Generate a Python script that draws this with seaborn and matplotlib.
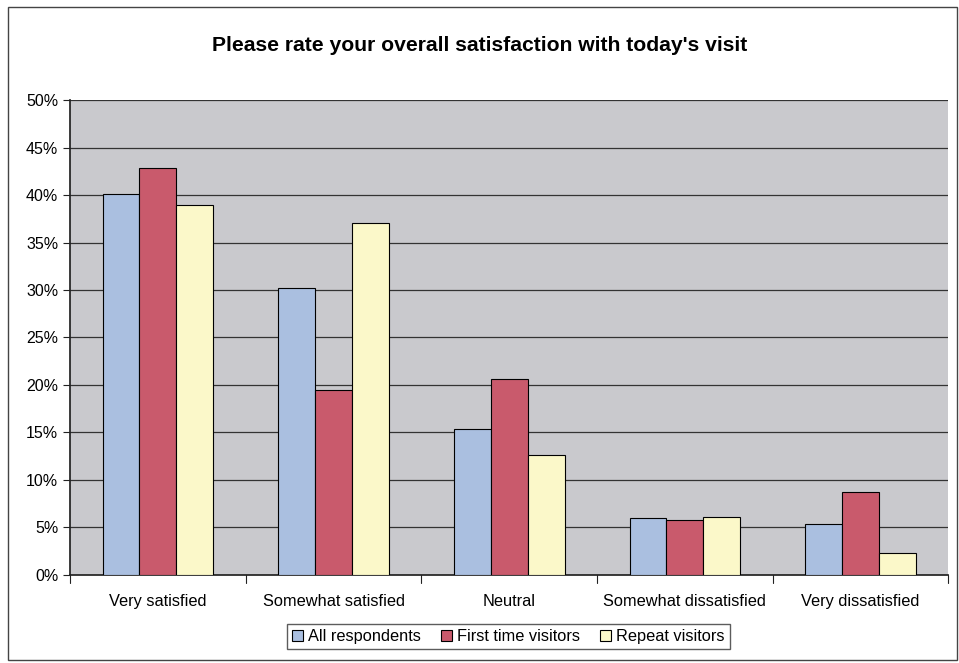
import matplotlib
matplotlib.use("Agg")
import matplotlib.pyplot as plt
import matplotlib.patches as mpatches
import pandas as pd
import seaborn as sns

categories = ["Very satisfied", "Somewhat satisfied", "Neutral",
              "Somewhat dissatisfied", "Very dissatisfied"]
all_respondents = [40.1, 30.2, 15.4, 6.0, 5.4]
first_time = [42.8, 19.5, 20.6, 5.8, 8.7]
repeat = [39.0, 37.1, 12.6, 6.1, 2.3]
series_names = ["All respondents", "First time visitors", "Repeat visitors"]
colors = ["#aabfe0", "#c95a6c", "#fbf8c9"]
yticks = list(range(0, 55, 5))

rows = []
for name, vals in zip(series_names, [all_respondents, first_time, repeat]):
    for c, v in zip(categories, vals):
        rows.append({"category": c, "series": name, "value": v})
df = pd.DataFrame(rows)

sns.set_theme(style="white")
plt.rcParams["font.family"] = ["Liberation Sans", "DejaVu Sans"]
plt.rcParams["text.color"] = "black"
plt.rcParams["xtick.color"] = "black"
plt.rcParams["ytick.color"] = "black"

fig = plt.figure(figsize=(9.59, 6.63), dpi=100)
ax = fig.add_axes([0.073, 0.133, 0.916, 0.716])

sns.barplot(data=df, x="category", y="value", hue="series", palette=colors,
            hue_order=series_names, order=categories, width=0.63, saturation=1,
            edgecolor="black", linewidth=0.8, ax=ax, legend=False, zorder=3)

ax.set_facecolor("#c9c9cd")
ax.set_ylim(0, 50)
ax.set_xlim(-0.5, 4.5)
ax.set_yticks(yticks)
ax.set_yticklabels([f"{t}%" for t in yticks], fontsize=11.5)
for t in yticks[1:]:
    ax.axhline(t, color="#333333", linewidth=0.9, zorder=1)
ax.set_xticks(range(len(categories)))
ax.set_xticklabels(categories, fontsize=11.8)
ax.tick_params(axis="x", length=0, pad=14)
ax.tick_params(axis="y", length=5, width=0.8, color="#222222", direction="out", left=True)
for b in [-0.5, 0.5, 1.5, 2.5, 3.5, 4.5]:
    ax.plot([b, b], [0, -0.9], color="#222222", linewidth=0.8, clip_on=False)
ax.set_xlabel("")
ax.set_ylabel("")
for side in ["top", "right"]:
    ax.spines[side].set_visible(False)
ax.spines["left"].set_color("#222222")
ax.spines["bottom"].set_color("#222222")

fig.text(0.5, 0.932, "Please rate your overall satisfaction with today's visit",
         ha="center", va="center", fontsize=15.2, fontweight="bold")

handles = [mpatches.Patch(facecolor=c, edgecolor="black", linewidth=0.8, label=n)
           for c, n in zip(colors, series_names)]
fig.legend(handles=handles, loc="center", bbox_to_anchor=(0.53, 0.04), ncol=3,
           frameon=True, fancybox=False, edgecolor="#333333", fontsize=11.8,
           handlelength=0.7, handleheight=0.7, handletextpad=0.3, columnspacing=1.2,
           borderpad=0.3)

fig.patches.append(mpatches.Rectangle((0.008, 0.005), 0.99, 0.985, transform=fig.transFigure,
                                      fill=False, edgecolor="#444444", linewidth=1.0))

fig.savefig("out.png", dpi=100)
